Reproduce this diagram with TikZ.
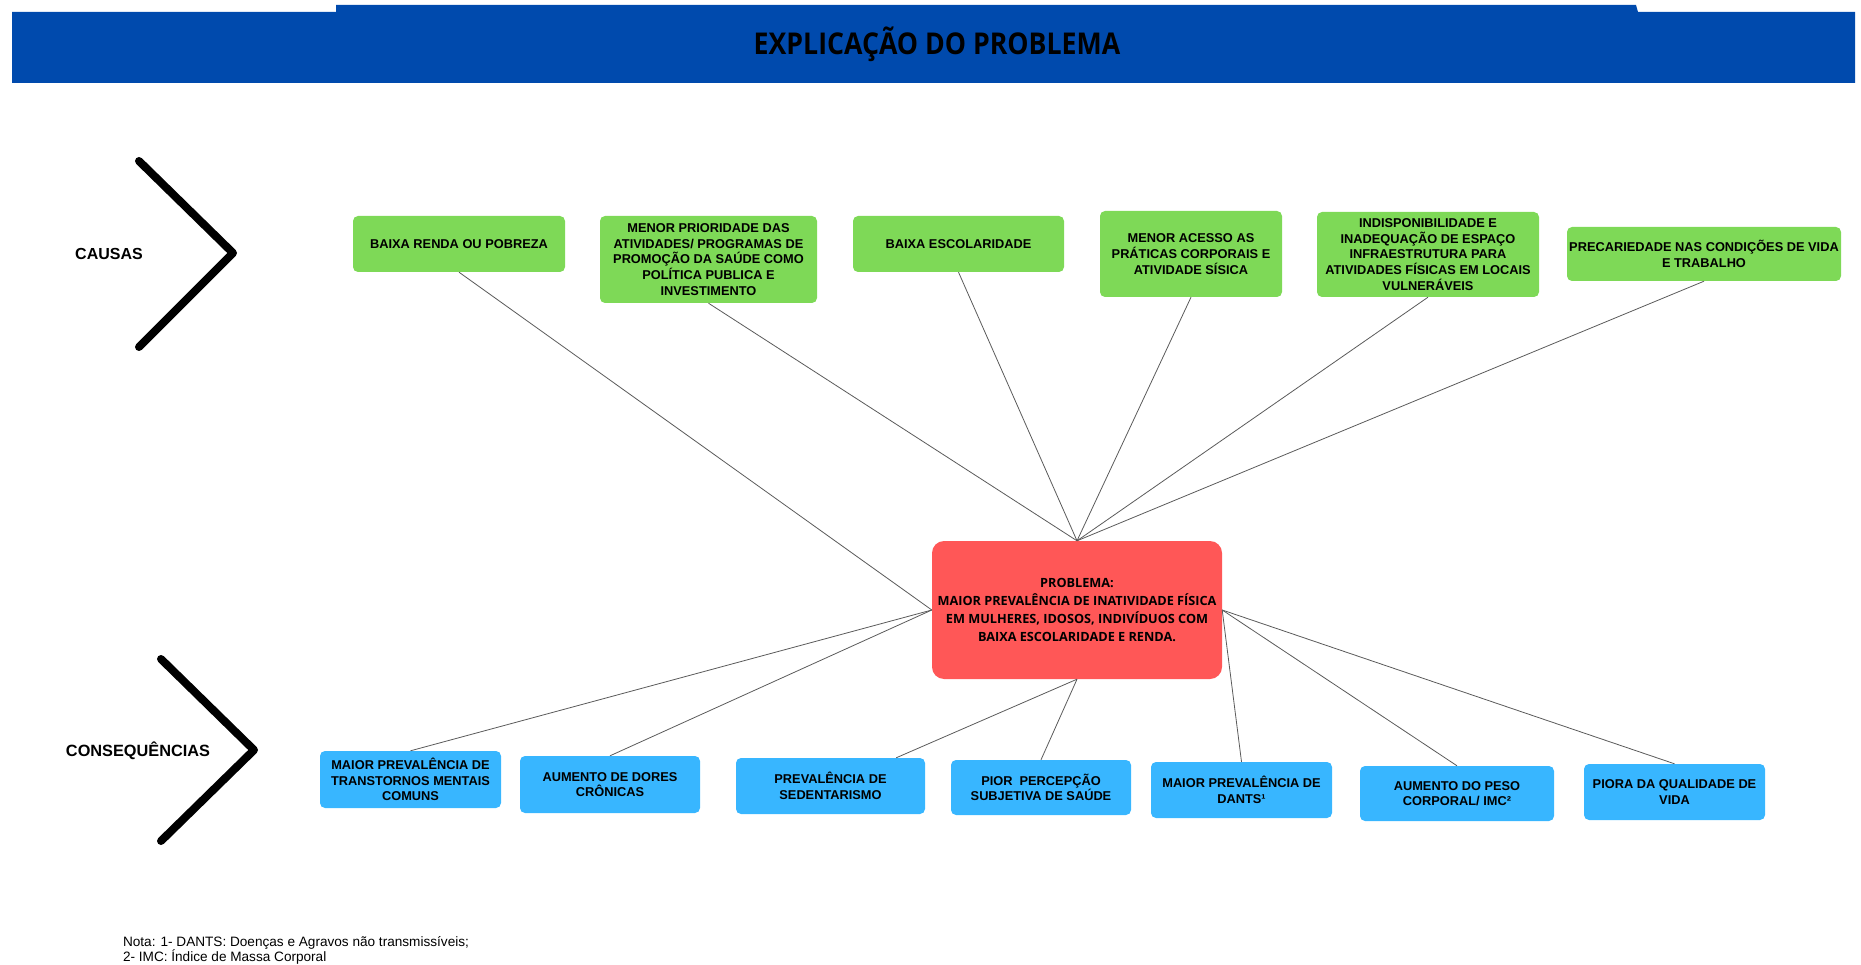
\documentclass[tikz,border=0pt]{standalone}
\usepackage{fontspec}
\setmainfont{Liberation Sans}
\newfontfamily\opensans{Open Sans}
\newfontfamily\titlefont[FakeStretch=0.89]{Open Sans}
\definecolor{azulhead}{HTML}{004AAD}
\definecolor{verde}{HTML}{7ED957}
\definecolor{vermelho}{HTML}{FF5757}
\definecolor{azul}{HTML}{38B6FF}
\definecolor{linha}{HTML}{5A5A5A}

\begin{document}
\begin{tikzpicture}[x=1pt,y=-1pt,
  causa/.style={fill=verde,rounded corners=5pt,align=center,inner sep=1pt,
    font=\fontsize{12.8}{15.6}\selectfont\bfseries},
  consq/.style={causa,fill=azul},
  lig/.style={draw=linha,line width=0.8pt},
  chev/.style={line width=8pt,line cap=round,line join=round}]
  \useasboundingbox (0,0) rectangle (1861,965);
  \fill[azulhead] (12,12) -- (336,12) -- (336,5) -- (1636,5) -- (1638,12) -- (1855,12)
    -- (1855,83) -- (12,83) -- cycle;
  \node (titulo) at (937,44) {\fontsize{30}{33}\titlefont\bfseries EXPLICAÇÃO DO PROBLEMA};

  \draw[chev] (139,161) -- (233,253) -- (139,347);
  \node[font=\fontsize{16}{18}\selectfont\bfseries] (causas) at (109,254) {CAUSAS};
  \draw[chev] (161,659) -- (254,750) -- (161,841);
  \node[font=\fontsize{16.3}{18}\selectfont\bfseries] (consequencias) at (138,751) {CONSEQUÊNCIAS};

  \node[causa,minimum width=212pt,minimum height=56pt] (c1) at (459,244) {BAIXA RENDA OU POBREZA};
  \node[causa,minimum width=217pt,minimum height=87pt] (c2) at (708.5,259.5)
    {MENOR PRIORIDADE DAS\\ATIVIDADES/ PROGRAMAS DE\\PROMOÇÃO DA SAÚDE COMO\\POLÍTICA PUBLICA E\\INVESTIMENTO};
  \node[causa,minimum width=211pt,minimum height=56pt] (c3) at (958.5,244) {BAIXA ESCOLARIDADE};
  \node[causa,minimum width=182pt,minimum height=86pt] (c4) at (1191,254)
    {MENOR ACESSO AS\\PRÁTICAS CORPORAIS E\\ATIVIDADE SÍSICA};
  \node[causa,minimum width=222pt,minimum height=85pt] (c5) at (1428,254.5)
    {INDISPONIBILIDADE E\\INADEQUAÇÃO DE ESPAÇO\\INFRAESTRUTURA PARA\\ATIVIDADES FÍSICAS EM LOCAIS\\VULNERÁVEIS};
  \node[causa,minimum width=274pt,minimum height=54pt] (c6) at (1704,254)
    {PRECARIEDADE NAS CONDIÇÕES DE VIDA\\E TRABALHO};

  \node[fill=vermelho,rounded corners=12pt,align=center,inner sep=1pt,
    minimum width=290pt,minimum height=138pt,
    font=\fontsize{12.7}{18.2}\opensans\bfseries] (P) at (1077,610)
    {PROBLEMA:\\MAIOR PREVALÊNCIA DE INATIVIDADE FÍSICA\\EM MULHERES, IDOSOS, INDIVÍDUOS COM\\BAIXA ESCOLARIDADE E RENDA.};

  \node[consq,minimum width=181pt,minimum height=57pt] (b1) at (410.5,779.5)
    {MAIOR PREVALÊNCIA DE\\TRANSTORNOS MENTAIS\\COMUNS};
  \node[consq,minimum width=180pt,minimum height=57pt] (b2) at (610,784.5) {AUMENTO DE DORES\\CRÔNICAS};
  \node[consq,minimum width=189pt,minimum height=56pt] (b3) at (830.5,786) {PREVALÊNCIA DE\\SEDENTARISMO};
  \node[consq,minimum width=180pt,minimum height=55pt] (b4) at (1041,787.5) {PIOR\ \ PERCEPÇÃO\\SUBJETIVA DE SAÚDE};
  \node[consq,minimum width=181pt,minimum height=56pt] (b5) at (1241.5,790) {MAIOR PREVALÊNCIA DE\\DANTS¹};
  \node[consq,minimum width=194pt,minimum height=55pt] (b6) at (1457,793.5) {AUMENTO DO PESO\\CORPORAL/ IMC²};
  \node[consq,minimum width=181pt,minimum height=56pt] (b7) at (1674.5,792) {PIORA DA QUALIDADE DE\\VIDA};

  \draw[lig] (c1.south) -- (P.west);
  \foreach \c in {c2,c3,c4,c5,c6} \draw[lig] (\c.south) -- (P.north);
  \draw[lig] (P.west) -- (b1.north);
  \draw[lig] (P.west) -- (b2.north);
  \draw[lig] (P.south) -- ([xshift=-29pt]b3.north east);
  \draw[lig] (P.south) -- (b4.north);
  \foreach \b in {b5,b6,b7} \draw[lig] (P.east) -- (\b.north);

  \node[anchor=west,align=left,font=\fontsize{13.6}{15.6}\selectfont] (nota) at (119.5,950.5)
    {Nota: 1- DANTS: Doenças e Agravos não transmissíveis;\\2- IMC: Índice de Massa Corporal};
\end{tikzpicture}
\end{document}
